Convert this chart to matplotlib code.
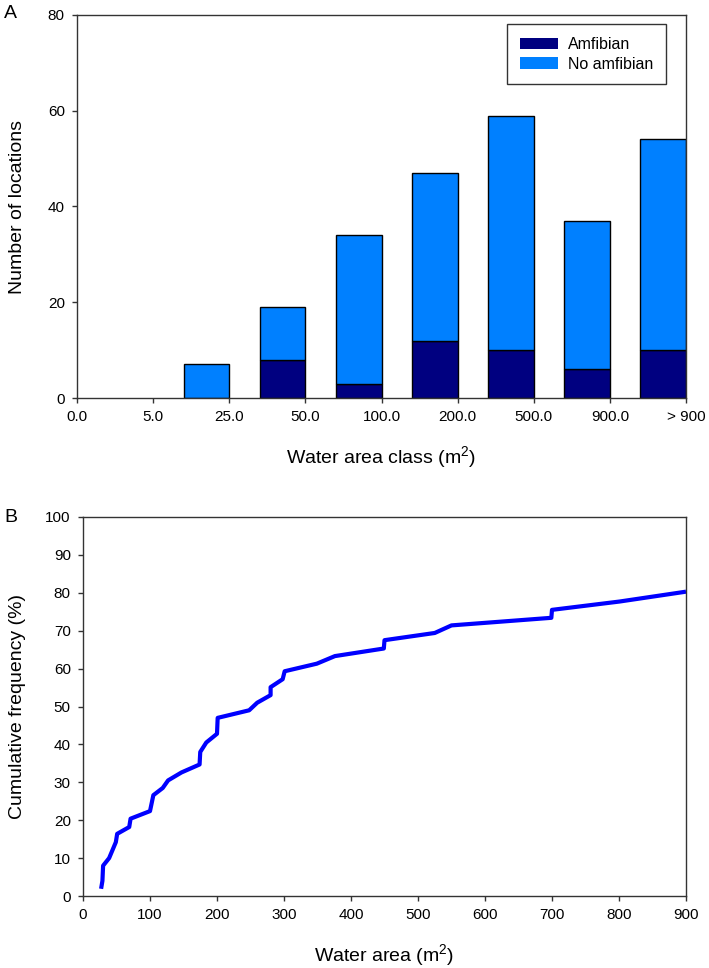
import matplotlib
matplotlib.use("Agg")
import matplotlib.pyplot as plt
import numpy as np

plt.rcParams['font.family'] = ['Liberation Sans', 'DejaVu Sans']
plt.rcParams['mathtext.fontset'] = 'custom'
plt.rcParams['mathtext.rm'] = 'Liberation Sans'

# ---- Panel A data ----
class_labels = ["0.0", "5.0", "25.0", "50.0", "100.0", "200.0", "500.0", "900.0", "> 900"]
bar_classes = ["5.0", "25.0", "50.0", "100.0", "200.0", "500.0", "900.0", "> 900"]
amfibian = [0, 0, 8, 3, 12, 10, 6, 10]
total = [0, 7, 19, 34, 47, 59, 37, 54]
no_amfibian = [t - a for t, a in zip(total, amfibian)]

# ---- Panel B data ----
water_area = [27, 29, 30, 39, 49, 51, 69, 71, 100, 105, 119, 127, 147, 174, 175, 184, 200, 201,
              248, 260, 280, 280, 298, 301, 349, 376, 449, 450, 525, 550, 699, 700, 801, 900]
cum_freq = [1.9, 4.0, 8.0, 10.0, 14.2, 16.4, 18.2, 20.4, 22.4, 26.6, 28.5, 30.5, 32.6, 34.7, 38.0,
            40.5, 42.8, 47.0, 49.0, 51.0, 53.0, 55.1, 57.2, 59.3, 61.3, 63.3, 65.3, 67.5, 69.4,
            71.4, 73.4, 75.5, 77.7, 80.3]

fig = plt.figure(figsize=(7.09, 9.68), dpi=100)
W, H = 709, 968

def ax_rect(l, r, t, b):
    return [l / W, 1 - b / H, (r - l) / W, (b - t) / H]

spine_col = '#333333'
dark = '#000080'
light = '#0080ff'

# ---- Panel A ----
ax1 = fig.add_axes(ax_rect(77, 686, 15, 398))
xpos = [class_labels.index(c) - 0.3 for c in bar_classes]
lw_a = [1.0 if v > 0 else 0 for v in amfibian]
lw_n = [1.0 if v > 0 else 0 for v in no_amfibian]
ax1.bar(xpos, amfibian, width=0.6, color=dark, edgecolor='black', linewidth=lw_a, label='Amfibian')
ax1.bar(xpos, no_amfibian, width=0.6, bottom=amfibian, color=light, edgecolor='black',
        linewidth=lw_n, label='No amfibian')
ax1.set_xlim(0, len(class_labels) - 1)
ax1.set_ylim(0, 80)
ax1.set_xticks(range(len(class_labels)))
ax1.set_xticklabels(class_labels)
ax1.set_yticks([0, 20, 40, 60, 80])
ax1.set_ylabel('Number of locations', fontsize=14)
ax1.set_xlabel('Water area class (m$^2$)', fontsize=14)
ax1.yaxis.set_label_coords((18 - 77) / 609, 0.5)
ax1.yaxis.label.set_va('center')
ax1.xaxis.set_label_coords(0.5, (398 - 458) / 383)
ax1.xaxis.label.set_va('center')
leg = ax1.legend(loc='upper right', bbox_to_anchor=((666 - 77) / 609, (398 - 24) / 383),
                 borderaxespad=0, frameon=True, fancybox=False,
                 edgecolor='black', fontsize=11.5, handlelength=2.4, handleheight=0.7,
                 handletextpad=0.6, borderpad=0.8, labelspacing=0.3)
leg.get_frame().set_linewidth(1.0)

# ---- Panel B ----
ax2 = fig.add_axes(ax_rect(83, 686, 517, 896))
ax2.plot(water_area, cum_freq, color='#0000ff', linewidth=3.0, solid_capstyle='butt')
ax2.set_xlim(0, 900)
ax2.set_ylim(0, 100)
ax2.set_xticks(range(0, 901, 100))
ax2.set_yticks(range(0, 101, 10))
ax2.set_ylabel('Cumulative frequency (%)', fontsize=14)
ax2.set_xlabel('Water area (m$^2$)', fontsize=14)
ax2.yaxis.set_label_coords((18 - 83) / 603, 0.5)
ax2.yaxis.label.set_va('center')
ax2.xaxis.set_label_coords(0.5, (896 - 956) / 379)
ax2.xaxis.label.set_va('center')

for ax in (ax1, ax2):
    for s in ax.spines.values():
        s.set_color(spine_col)
        s.set_linewidth(1.0)
    ax.tick_params(direction='out', length=3.8, width=1.0, color=spine_col, labelsize=11, pad=5)

fig.text(4 / W, 1 - 14 / H, 'A', fontsize=14, ha='left', va='center')
fig.text(4 / W, 1 - 517 / H, 'B', fontsize=14, ha='left', va='center')

fig.savefig('out.png', dpi=100)
